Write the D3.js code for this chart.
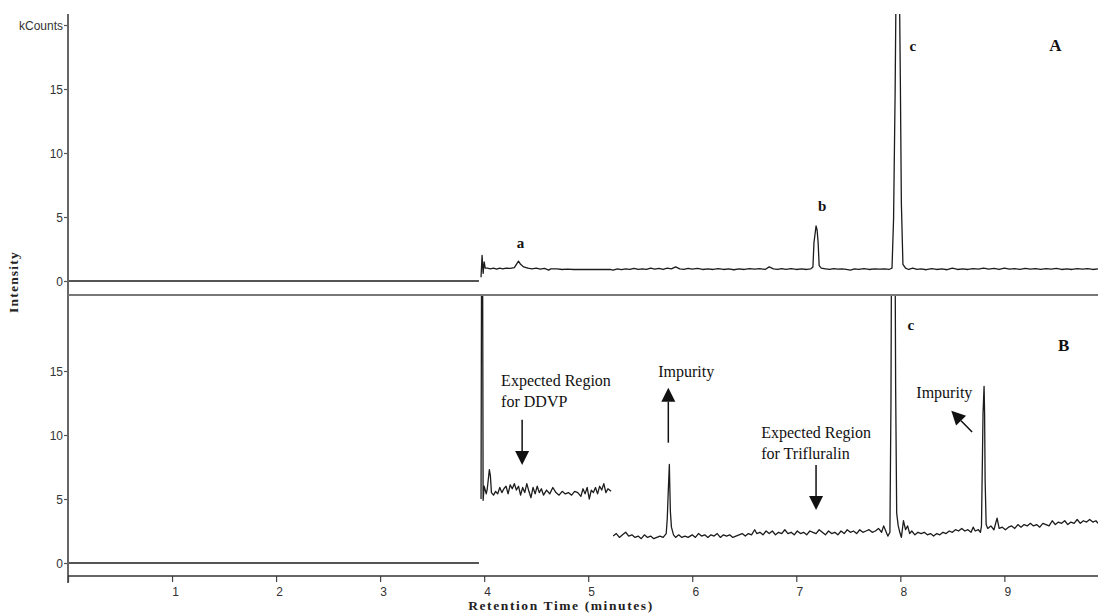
<!DOCTYPE html>
<html>
<head>
<meta charset="utf-8">
<script src="https://cdn.jsdelivr.net/npm/d3@7"></script>
<style>
  html, body { margin: 0; padding: 0; background: #fff; }
  svg { display: block; }
  .tick-label { font-family: "Liberation Sans", Arial, sans-serif; font-size: 12px; fill: #333; }
  .note { font-family: "Liberation Serif", "Times New Roman", serif; font-size: 16px; fill: #111; }
  .peak { font-family: "Liberation Serif", "Times New Roman", serif; font-weight: bold; font-size: 15px; fill: #111; }
  .panel { font-family: "Liberation Serif", "Times New Roman", serif; font-weight: bold; font-size: 17px; fill: #111; }
  .axis-title { font-family: "Liberation Serif", "Times New Roman", serif; font-weight: bold; font-size: 13.5px; fill: #222; }
</style>
</head>
<body>
<svg id="chart" width="1098" height="613"></svg>
<script>
// Retention-time ticks (minutes) and intensity ticks (kCounts)
const timeTicks = [0, 1, 2, 3, 4, 5, 6, 7, 8, 9];
const timeTickLabels = ["", "1", "2", "3", "4", "5", "6", "7", "8", "9"];
const intensityTicksA = [0, 5, 10, 15, 20];
const intensityTickLabelsA = ["0", "5", "10", "15", "kCounts"];
const intensityTicksB = [0, 5, 10, 15];
const intensityTickLabelsB = ["0", "5", "10", "15"];

// Chromatogram A: [time (min), intensity (kCounts)]
const traceA_flat = [[0, 0], [3.95, 0]];
const traceA_main = [
  [3.97, 0.3], [3.98, 2.0], [3.99, 0.6], [4.0, 1.5], [4.01, 1.0], [4.03, 1.0], [4.06, 0.95], [4.09, 1.0],
  [4.12, 0.92], [4.15, 1.0], [4.18, 0.95], [4.21, 1.0], [4.25, 0.98], [4.29, 1.05], [4.31, 1.3], [4.33, 1.55],
  [4.35, 1.3], [4.38, 1.1], [4.42, 1.0], [4.46, 0.95], [4.5, 1.0], [4.54, 0.92], [4.58, 0.98], [4.62, 0.85],
  [4.64, 0.95], [4.7, 0.95], [4.75, 0.9], [4.8, 0.92], [4.86, 0.9], [5.21, 0.9], [5.24, 0.85], [5.28, 0.95],
  [5.32, 0.88], [5.36, 0.95], [5.4, 0.9], [5.44, 0.98], [5.48, 0.9], [5.52, 0.95], [5.56, 0.9], [5.6, 1.0],
  [5.64, 0.92], [5.68, 0.98], [5.72, 0.9], [5.76, 1.0], [5.8, 0.95], [5.84, 1.1], [5.88, 0.95], [5.92, 0.9],
  [5.96, 0.98], [6.0, 0.92], [6.05, 0.98], [6.1, 0.9], [6.15, 0.95], [6.2, 0.9], [6.25, 0.97], [6.3, 0.9],
  [6.35, 0.95], [6.4, 0.88], [6.45, 0.95], [6.5, 0.9], [6.55, 0.96], [6.6, 0.92], [6.65, 0.97], [6.7, 0.9],
  [6.74, 1.1], [6.78, 0.95], [6.82, 0.9], [6.86, 0.97], [6.9, 0.9], [6.95, 0.96], [7.0, 0.9], [7.05, 0.95],
  [7.1, 0.9], [7.14, 0.95], [7.16, 1.1], [7.17, 3.0], [7.19, 4.3], [7.2, 4.0], [7.21, 3.0], [7.22, 1.2],
  [7.24, 1.0], [7.28, 0.95], [7.32, 0.9], [7.36, 0.97], [7.4, 0.92], [7.44, 0.95], [7.48, 0.9], [7.52, 0.85],
  [7.56, 0.95], [7.6, 0.9], [7.65, 0.97], [7.7, 0.9], [7.75, 0.95], [7.8, 0.92], [7.85, 0.95], [7.89, 0.9],
  [7.92, 1.0], [7.935, 4.8], [7.95, 14.7], [7.96, 24], [7.99, 24], [8.0, 15.9], [8.01, 6.1], [8.025, 1.3],
  [8.05, 1.0], [8.08, 0.9], [8.12, 1.0], [8.16, 0.9], [8.2, 0.95], [8.25, 0.88], [8.3, 0.97], [8.35, 0.9],
  [8.4, 0.95], [8.45, 0.88], [8.5, 1.0], [8.55, 0.9], [8.6, 0.95], [8.65, 0.9], [8.7, 0.97], [8.75, 0.92],
  [8.8, 1.0], [8.85, 0.93], [8.9, 0.98], [8.95, 0.9], [9.0, 1.0], [9.05, 0.92], [9.1, 0.97], [9.15, 0.9],
  [9.2, 0.98], [9.25, 0.92], [9.3, 0.97], [9.35, 0.9], [9.4, 0.97], [9.45, 0.92], [9.5, 0.98], [9.55, 0.9],
  [9.6, 0.95], [9.65, 0.9], [9.7, 0.97], [9.75, 0.92], [9.8, 0.96], [9.85, 0.9], [9.9, 0.95]
];

// Chromatogram B: [time (min), intensity (kCounts)]
const traceB_flat = [[0, 0], [3.95, 0]];
const traceB_early = [
  [3.97, 5.0], [3.975, 24], [3.985, 24], [3.99, 4.9], [4.0, 6.0], [4.02, 5.4], [4.03, 5.8], [4.05, 7.3],
  [4.06, 6.8], [4.07, 5.5], [4.09, 5.3], [4.11, 5.6], [4.13, 5.4], [4.15, 5.9], [4.17, 5.5], [4.19, 5.8],
  [4.21, 6.0], [4.23, 5.4], [4.25, 6.1], [4.27, 5.8], [4.29, 6.2], [4.31, 5.7], [4.33, 6.0], [4.35, 5.3],
  [4.37, 5.9], [4.39, 5.5], [4.41, 6.2], [4.43, 5.6], [4.45, 5.1], [4.47, 5.9], [4.49, 5.4], [4.51, 6.0],
  [4.53, 5.5], [4.55, 5.8], [4.57, 5.3], [4.6, 5.7], [4.63, 5.4], [4.66, 5.9], [4.69, 5.5], [4.72, 5.3],
  [4.75, 5.6], [4.78, 5.4], [4.81, 5.5], [4.84, 5.3], [4.87, 5.6], [4.9, 5.5], [4.93, 5.2], [4.95, 5.8],
  [4.97, 5.4], [4.99, 5.9], [5.01, 5.0], [5.03, 5.7], [5.05, 5.5], [5.07, 5.9], [5.09, 5.4], [5.11, 6.0],
  [5.13, 5.7], [5.15, 6.2], [5.17, 5.5], [5.19, 5.8], [5.22, 5.6]
];
const traceB_late = [
  [5.24, 2.1], [5.27, 2.3], [5.3, 2.0], [5.33, 2.2], [5.36, 2.4], [5.39, 2.1], [5.42, 2.2], [5.45, 2.0],
  [5.48, 2.1], [5.51, 1.9], [5.54, 2.2], [5.57, 2.0], [5.6, 2.1], [5.63, 1.9], [5.66, 2.0], [5.69, 2.1],
  [5.72, 2.0], [5.75, 2.3], [5.76, 3.5], [5.77, 5.7], [5.78, 7.7], [5.785, 5.7], [5.79, 4.0], [5.8, 2.8],
  [5.82, 2.2], [5.84, 2.0], [5.87, 2.2], [5.9, 2.0], [5.93, 2.1], [5.96, 2.0], [6.0, 2.2], [6.03, 2.0],
  [6.06, 2.3], [6.09, 2.1], [6.12, 2.2], [6.15, 2.0], [6.18, 2.2], [6.21, 2.1], [6.24, 2.3], [6.27, 2.0],
  [6.3, 2.2], [6.33, 2.1], [6.36, 2.2], [6.39, 2.0], [6.42, 2.1], [6.45, 2.2], [6.48, 2.3], [6.51, 2.1],
  [6.54, 2.3], [6.57, 2.2], [6.6, 2.6], [6.62, 2.3], [6.65, 2.4], [6.68, 2.2], [6.71, 2.5], [6.74, 2.3],
  [6.77, 2.5], [6.8, 2.2], [6.83, 2.4], [6.86, 2.3], [6.89, 2.6], [6.92, 2.3], [6.95, 2.4], [6.98, 2.2],
  [7.01, 2.5], [7.04, 2.3], [7.07, 2.4], [7.1, 2.2], [7.13, 2.5], [7.16, 2.4], [7.19, 2.3], [7.22, 2.6],
  [7.25, 2.4], [7.28, 2.2], [7.31, 2.5], [7.34, 2.3], [7.37, 2.4], [7.4, 2.2], [7.43, 2.5], [7.46, 2.3],
  [7.49, 2.6], [7.52, 2.4], [7.55, 2.5], [7.58, 2.3], [7.61, 2.6], [7.64, 2.4], [7.67, 2.5], [7.7, 2.6],
  [7.73, 2.4], [7.76, 2.5], [7.79, 2.7], [7.82, 2.4], [7.84, 2.9], [7.86, 2.5], [7.88, 2.1], [7.9, 2.4],
  [7.91, 12.5], [7.915, 24], [7.95, 24], [7.955, 13.7], [7.965, 3.9], [7.98, 2.9], [7.995, 2.4], [8.01, 2.0],
  [8.03, 3.3], [8.05, 2.6], [8.07, 2.9], [8.09, 2.3], [8.11, 2.5], [8.14, 2.2], [8.17, 2.4], [8.2, 2.3],
  [8.23, 2.4], [8.26, 2.2], [8.29, 2.3], [8.32, 2.1], [8.35, 2.3], [8.38, 2.2], [8.41, 2.4], [8.44, 2.3],
  [8.47, 2.5], [8.5, 2.4], [8.53, 2.6], [8.56, 2.5], [8.59, 2.7], [8.62, 2.5], [8.65, 2.6], [8.68, 2.4],
  [8.7, 2.8], [8.72, 2.5], [8.75, 2.6], [8.77, 2.4], [8.78, 2.9], [8.79, 8.7], [8.795, 11.7], [8.805, 13.8],
  [8.81, 11.7], [8.815, 6.5], [8.825, 3.0], [8.84, 2.7], [8.87, 2.9], [8.9, 2.6], [8.93, 3.5], [8.95, 2.7],
  [8.98, 2.8], [9.01, 2.6], [9.04, 2.8], [9.07, 2.9], [9.1, 2.7], [9.13, 3.0], [9.16, 2.8], [9.19, 3.0],
  [9.22, 2.9], [9.25, 3.1], [9.28, 2.9], [9.31, 3.0], [9.34, 2.8], [9.37, 3.1], [9.4, 3.0], [9.43, 2.9],
  [9.46, 3.3], [9.49, 3.0], [9.52, 3.2], [9.55, 3.1], [9.58, 3.3], [9.61, 3.0], [9.64, 3.2], [9.67, 3.1],
  [9.7, 3.4], [9.73, 3.1], [9.76, 3.3], [9.79, 3.2], [9.82, 3.4], [9.85, 3.2], [9.88, 3.3], [9.9, 3.1]
];

// Peak letters and text annotations, anchored in data units
const peakLabelsA = [
  { t: 4.35, v: 3.0, text: "a" },
  { t: 7.25, v: 5.9, text: "b" },
  { t: 8.12, v: 18.4, text: "c" }
];
const peakLabelsB = [{ t: 8.1, v: 18.6, text: "c" }];
const notesB = [
  { t: 4.163, v: 13.8, lines: ["Expected Region", "for DDVP"] },
  { t: 5.673, v: 14.5, lines: ["Impurity"] },
  { t: 6.663, v: 9.77, lines: ["Expected Region", "for Trifluralin"] },
  { t: 8.154, v: 12.9, lines: ["Impurity"] }
];
// Arrows: from (t0, v0) to the head at (t1, v1)
const arrowsB = [
  { t0: 4.365, v0: 11.2, t1: 4.365, v1: 7.65 },
  { t0: 5.77, v0: 9.4, t1: 5.77, v1: 13.7 },
  { t0: 7.19, v0: 7.65, t1: 7.19, v1: 4.14 },
  { t0: 8.69, v0: 10.23, t1: 8.49, v1: 11.9 }
];

const svg = d3.select("#chart");
const W = 1098, H = 613;

const x = d3.scaleLinear().domain([0, 9.9]).range([68, 1098]);
const yA = d3.scaleLinear().domain([0, 20]).range([281, 25]);
const yB = d3.scaleLinear().domain([0, 20]).range([563, 307]);

const panelA = { top: 14, bottom: 295 };
const panelB = { top: 296, bottom: 576 };

const defs = svg.append("defs");
defs.append("clipPath").attr("id", "clipA").append("rect")
  .attr("x", 68).attr("y", panelA.top).attr("width", W - 68).attr("height", panelA.bottom - panelA.top - 1);
defs.append("clipPath").attr("id", "clipB").append("rect")
  .attr("x", 68).attr("y", panelB.top).attr("width", W - 68).attr("height", panelB.bottom - panelB.top);

function drawTrace(data, yScale, clip) {
  const line = d3.line().x(d => x(d[0])).y(d => yScale(d[1]));
  svg.append("path")
    .datum(data)
    .attr("clip-path", `url(#${clip})`)
    .attr("fill", "none")
    .attr("stroke", "#1c1c1c")
    .attr("stroke-width", 1.3)
    .attr("stroke-linejoin", "round")
    .attr("d", line);
}

drawTrace(traceA_flat, yA, "clipA");
drawTrace(traceA_main, yA, "clipA");
drawTrace(traceB_flat, yB, "clipB");
drawTrace(traceB_early, yB, "clipB");
drawTrace(traceB_late, yB, "clipB");

// Y axes
function yAxis(yScale, ticks, labels) {
  const g = svg.append("g").attr("transform", "translate(68,0)");
  g.call(d3.axisLeft(yScale).tickValues(ticks).tickSize(4)
    .tickFormat((d, i) => labels[i]));
  g.select(".domain").remove();
  g.selectAll(".tick line").attr("stroke", "#555").attr("stroke-width", 1.2);
  g.selectAll(".tick text").attr("class", "tick-label").attr("fill", null).attr("x", -5).attr("dy", "0.35em");
}
yAxis(yA, intensityTicksA, intensityTickLabelsA);
yAxis(yB, intensityTicksB, intensityTickLabelsB);

// Vertical axis line spanning both panels
svg.append("line").attr("x1", 68).attr("x2", 68).attr("y1", 14).attr("y2", 583)
  .attr("stroke", "#666").attr("stroke-width", 2);
// Panel separator
svg.append("line").attr("x1", 68).attr("x2", W).attr("y1", 295).attr("y2", 295)
  .attr("stroke", "#777").attr("stroke-width", 2.2);

// X axis
const gx = svg.append("g").attr("transform", "translate(0,576)");
gx.call(d3.axisBottom(x).tickValues(timeTicks).tickSize(6)
  .tickFormat((d, i) => timeTickLabels[i]));
gx.select(".domain").remove();
gx.selectAll(".tick line").attr("stroke", "#444").attr("stroke-width", 1.2);
gx.selectAll(".tick text").attr("class", "tick-label").attr("fill", null).attr("x", 3).attr("y", 11);
svg.append("line").attr("x1", 68).attr("x2", W).attr("y1", 576).attr("y2", 576)
  .attr("stroke", "#333").attr("stroke-width", 1.5);

// Axis titles
svg.append("text").attr("class", "axis-title")
  .attr("transform", "translate(18,282) rotate(-90)")
  .attr("text-anchor", "middle")
  .attr("letter-spacing", "1.2")
  .text("Intensity");
svg.append("text").attr("class", "axis-title")
  .attr("x", 561).attr("y", 610)
  .attr("text-anchor", "middle")
  .attr("letter-spacing", "1.6")
  .text("Retention Time (minutes)");

// Peak letters
peakLabelsA.forEach(p => {
  svg.append("text").attr("class", "peak").attr("x", x(p.t)).attr("y", yA(p.v))
    .attr("text-anchor", "middle").attr("dy", "0.35em").text(p.text);
});
peakLabelsB.forEach(p => {
  svg.append("text").attr("class", "peak").attr("x", x(p.t)).attr("y", yB(p.v))
    .attr("text-anchor", "middle").attr("dy", "0.35em").text(p.text);
});

// Panel letters
svg.append("text").attr("class", "panel").attr("x", x(9.49)).attr("y", yA(18.4))
  .attr("text-anchor", "middle").attr("dy", "0.35em").text("A");
svg.append("text").attr("class", "panel").attr("x", x(9.57)).attr("y", yB(17.0))
  .attr("text-anchor", "middle").attr("dy", "0.35em").text("B");

// Text notes in panel B
notesB.forEach(n => {
  const t = svg.append("text").attr("class", "note").attr("x", x(n.t)).attr("y", yB(n.v));
  n.lines.forEach((ln, i) => {
    t.append("tspan").attr("x", x(n.t)).attr("dy", i === 0 ? 0 : 21).text(ln);
  });
});

// Arrows with filled triangular heads
arrowsB.forEach(a => {
  const x0 = x(a.t0), y0 = yB(a.v0), x1 = x(a.t1), y1 = yB(a.v1);
  const ang = Math.atan2(y1 - y0, x1 - x0);
  const headLen = 14, headHalf = 7;
  const bx = x1 - headLen * Math.cos(ang), by = y1 - headLen * Math.sin(ang);
  svg.append("line").attr("x1", x0).attr("y1", y0).attr("x2", bx).attr("y2", by)
    .attr("stroke", "#111").attr("stroke-width", 1.5);
  const px = -Math.sin(ang) * headHalf, py = Math.cos(ang) * headHalf;
  svg.append("polygon")
    .attr("points", [[x1, y1], [bx + px, by + py], [bx - px, by - py]].map(p => p.join(",")).join(" "))
    .attr("fill", "#111");
});
</script>
</body>
</html>
